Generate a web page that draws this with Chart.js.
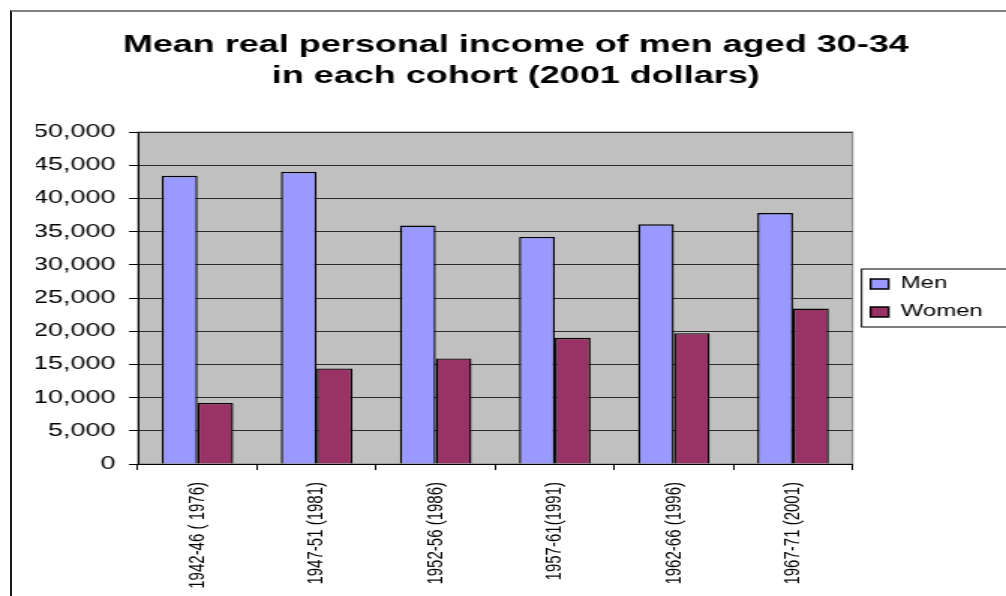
<!DOCTYPE html>
<html>
<head>
<meta charset="utf-8">
<script src="https://cdn.jsdelivr.net/npm/chart.js@4"></script>
<style>
  body { margin: 0; background: #fff; }
  #wrap { position: relative; width: 1006px; height: 596px; overflow: hidden; }
  #frame { position: absolute; left: 10px; top: 10px; right: -10px; bottom: -10px;
           border-left: 2px solid #1a1a1a; border-top: 2px solid #808080; pointer-events: none; }
  canvas { position: absolute; left: 0; top: 0; }
</style>
</head>
<body>
<div id="wrap">
  <canvas id="chart" width="671" height="596" style="width:1006px;height:596px"></canvas>
  <div id="frame"></div>
</div>
<script>
const categories = ['1942-46 ( 1976)', '1947-51 (1981)', '1952-56 (1986)', '1957-61(1991)', '1962-66 (1996)', '1967-71 (2001)'];
const menIncome = [43400, 44000, 35900, 34200, 36100, 37800];
const womenIncome = [9200, 14400, 15900, 19000, 19700, 23400];
const titleLines = ['Mean real personal income of men aged 30-34', 'in each cohort (2001 dollars)'];

const fontFamily = '"Liberation Sans", Arial, sans-serif';

// grey plot area + legend frame, like the old Excel chart
const plotBackground = {
    id: 'plotBackground',
    beforeDraw(chart) {
        const a = chart.chartArea;
        const ctx = chart.ctx;
        ctx.save();
        ctx.fillStyle = '#c0c0c0';
        ctx.fillRect(a.left, a.top, a.right - a.left, a.bottom - a.top);
        ctx.strokeStyle = '#808080';
        ctx.lineWidth = 1;
        ctx.strokeRect(a.left, a.top, a.right - a.left, a.bottom - a.top);
        ctx.restore();
    },
    afterDraw(chart) {
        const lg = chart.legend;
        const ctx = chart.ctx;
        const cy = (lg.top + lg.bottom) / 2;
        ctx.save();
        ctx.strokeStyle = '#000';
        ctx.lineWidth = 1;
        ctx.strokeRect(lg.left + 6, cy - 29, 200, 58);
        ctx.restore();
    }
};

new Chart(document.getElementById('chart'), {
    type: 'bar',
    data: {
        labels: categories,
        datasets: [{
            label: 'Men',
            data: menIncome,
            backgroundColor: '#9999ff',
            borderColor: '#000',
            borderWidth: 1.4,
            barPercentage: 1,
            categoryPercentage: 0.6
        }, {
            label: 'Women',
            data: womenIncome,
            backgroundColor: '#993366',
            borderColor: '#000',
            borderWidth: 1.4,
            barPercentage: 1,
            categoryPercentage: 0.6
        }]
    },
    options: {
        responsive: false,
        animation: false,
        layout: { padding: { left: 24, right: 7, top: 0, bottom: 0 } },
        plugins: {
            title: {
                display: true,
                text: titleLines,
                color: '#000',
                font: { family: fontFamily, size: 24, weight: 'bold', lineHeight: 1.3 },
                padding: { top: 30, bottom: 39.6 }
            },
            legend: {
                position: 'right',
                maxWidth: 95.33,
                labels: {
                    color: '#000',
                    font: { family: fontFamily, size: 16 },
                    boxWidth: 12,
                    boxHeight: 10,
                    padding: 12
                }
            },
            tooltip: { enabled: false }
        },
        scales: {
            x: {
                afterFit: s => { s.height = 132; },
                grid: { display: true, drawOnChartArea: false, color: '#000', tickLength: 6 },
                border: { color: '#000', width: 1 },
                ticks: {
                    color: '#000',
                    font: { family: fontFamily, size: 15 },
                    minRotation: 90,
                    maxRotation: 90,
                    autoSkip: false,
                    padding: 12
                }
            },
            y: {
                min: 0,
                max: 50000,
                afterFit: s => { s.width = 68; },
                grid: { color: '#2b2b2b', tickLength: 6, tickColor: '#000' },
                border: { color: '#000', width: 1 },
                ticks: {
                    stepSize: 5000,
                    color: '#000',
                    font: { family: fontFamily, size: 18 },
                    padding: 9,
                    callback: v => v.toLocaleString('en-US')
                }
            }
        }
    },
    plugins: [plotBackground]
});
</script>
</body>
</html>
